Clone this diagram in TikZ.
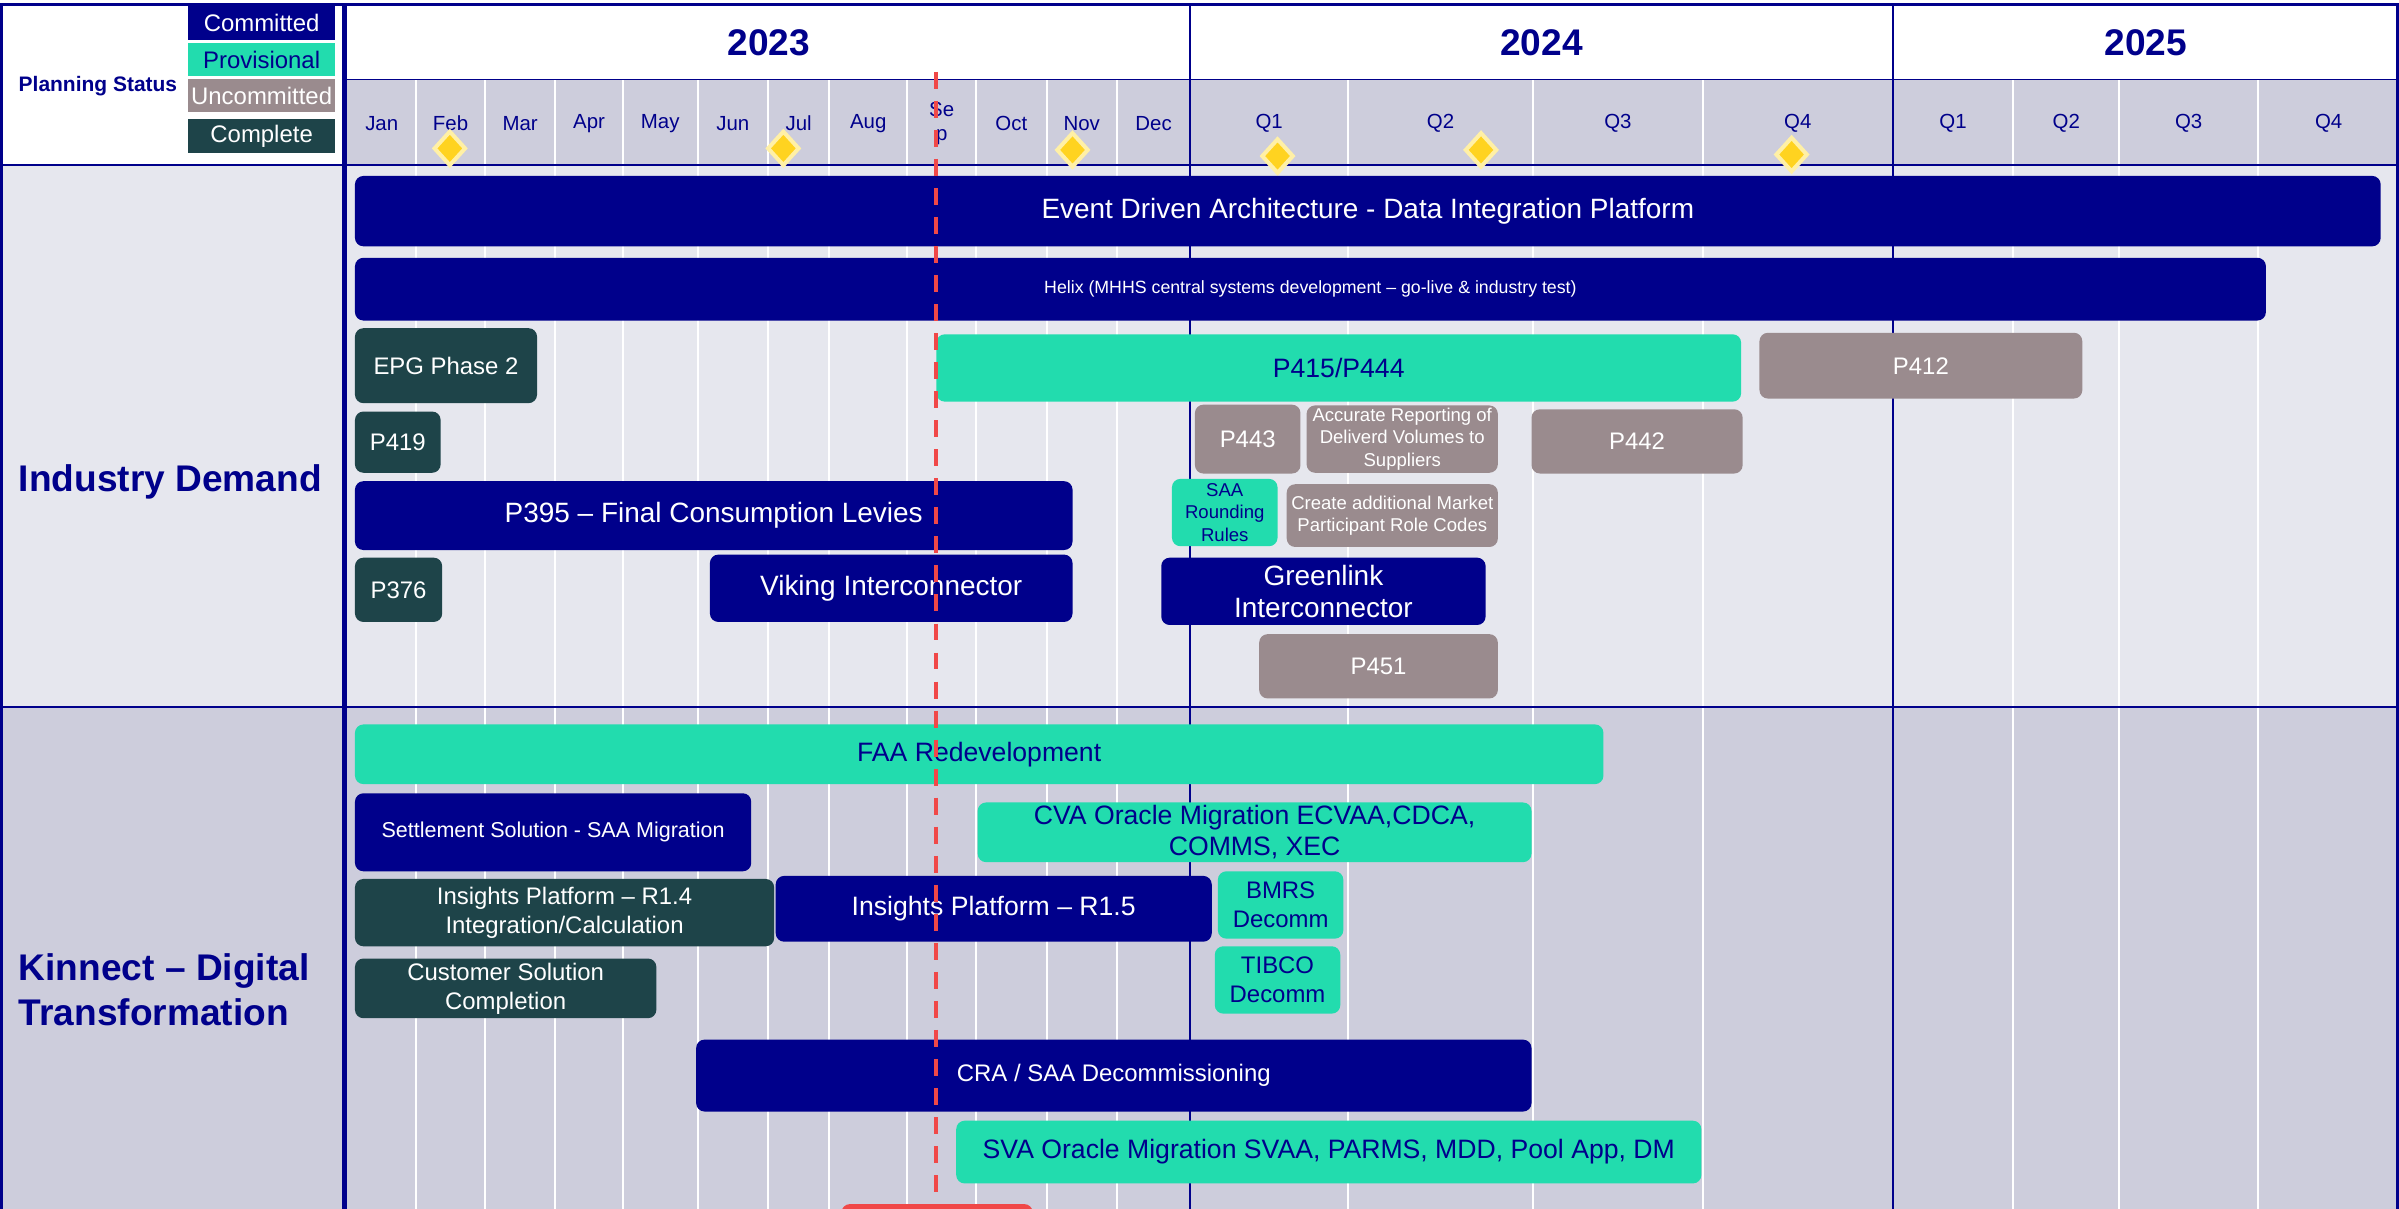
\documentclass[tikz,border=0pt]{standalone}
\usepackage{fontspec}
\setmainfont{Liberation Sans}
\usepackage{xcolor}
\definecolor{Committed}{HTML}{00008B}
\definecolor{Provisional}{HTML}{22DCAE}
\definecolor{Uncommitted}{HTML}{9A8B8E}
\definecolor{Complete}{HTML}{1E4449}
\definecolor{LightBg}{HTML}{E6E7EE}
\definecolor{DarkBg}{HTML}{CDCDDC}
\definecolor{Milestone}{HTML}{FFD320}
\definecolor{MilestoneRim}{HTML}{FFF0A6}
\definecolor{Today}{HTML}{F04848}
\usetikzlibrary{shapes}
\newcommand\U{0.02cm}
\newcommand\BigText{\fontsize{10.4}{12}\selectfont}
\newcommand\BarText{\fontsize{9.9}{11.4}\selectfont}
\newcommand\MidText{\fontsize{8.9}{10.8}\selectfont}
\newcommand\SetText{\fontsize{8}{9.6}\selectfont}
\newcommand\SmallText{\fontsize{6.9}{8.4}\selectfont}
\newcommand\TinyText{\fontsize{6.6}{8}\selectfont}
\newcommand\HeadText{\fontsize{7.6}{9}\selectfont}
\newcommand\YearText{\fontsize{13.8}{16}\selectfont\bfseries}
\newcommand\LaneText{\fontsize{13.8}{16.5}\selectfont\bfseries}
\tikzstyle{task}=[rectangle,rounded corners=0.11cm,inner sep=0pt,align=center]
\tikzstyle{committed}=[task,fill=Committed,text=white]
\tikzstyle{provisional}=[task,fill=Provisional,text=Committed]
\tikzstyle{uncommitted}=[task,fill=Uncommitted,text=white]
\tikzstyle{complete}=[task,fill=Complete,text=white]
\tikzstyle{legend}=[rectangle,inner sep=0pt,minimum width=96*\U,minimum height=22*\U,font=\MidText]
\tikzstyle{month}=[inner sep=0pt,align=center,text=Committed,font=\HeadText]
\tikzstyle{year}=[inner sep=0pt,text=Committed,font=\YearText]
\tikzstyle{lane}=[inner sep=0pt,align=left,anchor=west,text=Committed,font=\LaneText]
\tikzstyle{milestone}=[diamond,inner sep=0pt,minimum width=21*\U,minimum height=23*\U,
                        fill=Milestone,draw=MilestoneRim,line width=1.5pt]
\tikzstyle{gridline}=[white,line width=0.75pt]
\tikzstyle{frame}=[Committed,line width=0.85pt]
\tikzstyle{todayline}=[Today,line width=1.4pt,dash pattern=on 6.3pt off 4.5pt]

\begin{document}
\begin{tikzpicture}[x=0.02cm,y=-0.02cm]
  \useasboundingbox (0,0) rectangle (1568,790);
  \clip (0,0) rectangle (1568,790);
  % backgrounds
  \fill[white] (0,0) rectangle (1568,108);
  \fill[DarkBg] (225,52) rectangle (1568,108);
  \fill[LightBg] (0,108) rectangle (1568,462);
  \fill[DarkBg] (0,462) rectangle (1568,790);
  \foreach \x in {272,317,363,407,456,502,542,593,638,684,730,881,1002,1113,1316,1385,1476}
    \draw[gridline] (\x,52) -- (\x,790);
  % frame
  \draw[frame] (0,3) -- (1568,3);
  \draw[frame] (1,3) -- (1,790);
  \draw[frame] (1567,3) -- (1567,790);
  \draw[frame,line width=0.6pt] (225,52) -- (1568,52);
  \draw[frame] (0,108) -- (1568,108);
  \draw[frame] (0,462) -- (1568,462);
  \draw[frame,line width=0.75pt] (778,3) -- (778,790);
  \draw[frame,line width=0.75pt] (1237,3) -- (1237,790);
  \draw[frame,line width=2pt] (225,3) -- (225,790);
  % legend
  \node[text=Committed,font=\fontsize{7.8}{9}\selectfont\bfseries] (status) at (64,56) {Planning Status};
  \node[legend,fill=Committed,text=white] (lgcom) at (171,15) {Committed};
  \node[legend,fill=Provisional,text=Committed] (lgpro) at (171,39) {Provisional};
  \node[legend,fill=Uncommitted,text=white] (lgunc) at (171,62.5) {Uncommitted};
  \node[legend,fill=Complete,text=white] (lgcpl) at (171,89) {Complete};
  % years and months
  \node[year] (y2023) at (502.5,28) {2023};
  \node[year] (y2024) at (1007.5,28) {2024};
  \node[year] (y2025) at (1402.5,28) {2025};
  \foreach \name/\x [count=\i] in {Jan/249.5,Feb/294.5,Mar/340,Apr/385,May/431.5,Jun/479,Jul/522,Aug/567.5,
      Oct/661,Nov/707,Dec/754,Q1/829.5,Q2/941.5,Q3/1057.5,Q4/1175,Q1/1276.5,Q2/1350.5,Q3/1430.5,Q4/1522}
    \node[month] (m\i) at (\x,80.5) {\name};
  \node[month] (msep) at (615.5,80.5) {Se\\p};
  \foreach \x/\y [count=\i] in {294/97,512/97,701/98,835/102,968/98,1171/101}
    \node[milestone] (ms\i) at (\x,\y) {};
  % swimlanes
  \node[lane] (industry) at (12,315) {Industry Demand};
  \node[lane] (kinnect) at (12,647) {Kinnect – Digital\\Transformation};
  % industry demand
  \node[committed,font=\BigText] (edp) at (894,138) [minimum width=1324*\U,minimum height=46*\U] {Event Driven Architecture - Data Integration Platform};
  \node[committed,font=\TinyText] (helix) at (856.5,189) [minimum width=1249*\U,minimum height=41*\U] {Helix (MHHS central systems development – go-live \& industry test)};
  \node[complete,font=\MidText] (epg) at (291.5,239) [minimum width=119*\U,minimum height=49*\U] {EPG Phase 2};
  \node[provisional,font=\BarText] (p415) at (875,240.5) [minimum width=526*\U,minimum height=44*\U] {P415/P444};
  \node[uncommitted,font=\MidText] (p412) at (1255.5,239) [minimum width=211*\U,minimum height=43*\U] {P412};
  \node[complete,font=\MidText] (p419) at (260,289) [minimum width=56*\U,minimum height=40*\U] {P419};
  \node[uncommitted,font=\MidText] (p443) at (815.5,287) [minimum width=69*\U,minimum height=45*\U] {P443};
  \node[uncommitted,font=\SmallText] (avr) at (916.5,287) [minimum width=125*\U,minimum height=44*\U] {Accurate Reporting of\\Deliverd Volumes to\\Suppliers};
  \node[uncommitted,font=\MidText] (p442) at (1070,288.5) [minimum width=138*\U,minimum height=42*\U] {P442};
  \node[committed,font=\BigText] (p395) at (466.5,337) [minimum width=469*\U,minimum height=45*\U] {P395 – Final Consumption Levies};
  \node[provisional,font=\SmallText] (saa) at (800.5,335) [minimum width=69*\U,minimum height=44*\U] {SAA\\Rounding\\Rules};
  \node[uncommitted,font=\SmallText] (roles) at (910,337) [minimum width=138*\U,minimum height=41*\U] {Create additional Market\\Participant Role Codes};
  \node[complete,font=\MidText] (p376) at (260.5,385.5) [minimum width=57*\U,minimum height=42*\U] {P376};
  \node[committed,font=\BigText] (viking) at (582.5,384.5) [minimum width=237*\U,minimum height=44*\U] {Viking Interconnector};
  \node[committed,font=\BigText] (greenlink) at (865,386.5) [minimum width=212*\U,minimum height=44*\U] {Greenlink\\Interconnector};
  \node[uncommitted,font=\MidText] (p451) at (901,435.5) [minimum width=156*\U,minimum height=42*\U] {P451};
  % kinnect
  \node[provisional,font=\BarText] (faa) at (640,493) [minimum width=816*\U,minimum height=39*\U] {FAA Redevelopment};
  \node[committed,font=\SetText] (settle) at (361.5,544) [minimum width=259*\U,minimum height=51*\U] {Settlement Solution - SAA Migration};
  \node[provisional,font=\BarText] (cva) at (820,544) [minimum width=362*\U,minimum height=39*\U] {CVA Oracle Migration ECVAA,CDCA,\\COMMS, XEC};
  \node[complete,font=\MidText] (ins14) at (369,596.5) [minimum width=274*\U,minimum height=44*\U] {Insights Platform – R1.4\\Integration/Calculation};
  \node[committed,font=\BarText] (ins15) at (649.5,594) [minimum width=285*\U,minimum height=43*\U] {Insights Platform – R1.5};
  \node[provisional,font=\MidText] (bmrs) at (837,591.5) [minimum width=82*\U,minimum height=44*\U] {BMRS\\Decomm};
  \node[provisional,font=\MidText] (tibco) at (835,640.5) [minimum width=82*\U,minimum height=44*\U] {TIBCO\\Decomm};
  \node[complete,font=\MidText] (cust) at (330.5,646) [minimum width=197*\U,minimum height=39*\U] {Customer Solution\\Completion};
  \node[committed,font=\MidText] (cra) at (728,703) [minimum width=546*\U,minimum height=47*\U] {CRA / SAA Decommissioning};
  \node[provisional,font=\BarText] (sva) at (868.5,753) [minimum width=487*\U,minimum height=41*\U] {SVA Oracle Migration SVAA, PARMS, MDD, Pool App, DM};
  % today
  \coordinate (todaytop) at (612,47);
  \coordinate (todaybot) at (612,790);
  \draw[todayline] (todaytop) -- (todaybot);
  \node[task,fill=Today] (todaybar) at (612.5,805) [minimum width=125*\U,minimum height=36*\U] {};
\end{tikzpicture}
\end{document}
